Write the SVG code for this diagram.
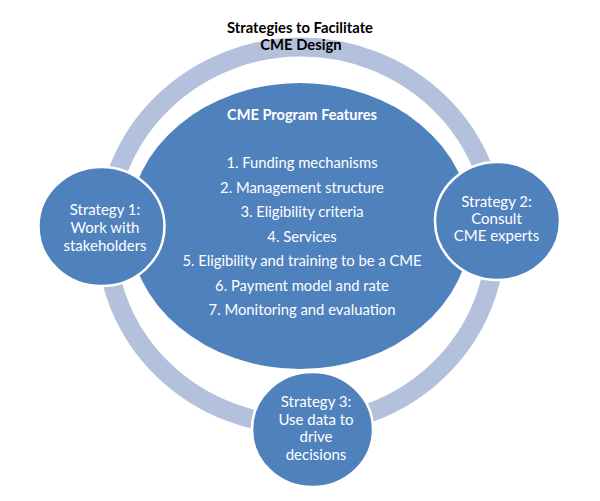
<svg xmlns="http://www.w3.org/2000/svg" width="600" height="501" viewBox="0 0 600 501">
<style>
.ring{fill:none;stroke:#b3c1dc;stroke-width:19}
.core{fill:#4f81bd}
.strat{fill:#4f81bd;stroke:#ffffff;stroke-width:2.5}
.t{font-family:Lato,"Liberation Sans",Arial,sans-serif;text-anchor:middle;fill:#ffffff}
.list{font-size:14.8px}
.st{font-size:15px}
.bold{font-weight:bold;font-size:14.6px}
.title{font-family:Lato,"Liberation Sans",Arial,sans-serif;text-anchor:middle;fill:#000000;font-weight:bold;font-size:14.8px}
</style>
<rect width="600" height="501" fill="#ffffff"/>
<g id="connectors">
<ellipse class="ring" cx="301" cy="236" rx="195" ry="189"/>
</g>
<g id="title">
<text class="title" x="300" y="33">Strategies to Facilitate</text>
<text class="title" x="301" y="49.5">CME Design</text>
</g>
<g id="features">
<ellipse class="core" cx="300" cy="226" rx="171" ry="143"/>
<text class="t bold" x="302" y="120">CME Program Features</text>
<text class="t list" x="302" y="168">1. Funding mechanisms</text>
<text class="t list" x="302" y="192.5">2. Management structure</text>
<text class="t list" x="302" y="217">3. Eligibility criteria</text>
<text class="t list" x="302" y="241.5">4. Services</text>
<text class="t list" x="302" y="266">5. Eligibility and training to be a CME</text>
<text class="t list" x="302" y="290.5">6. Payment model and rate</text>
<text class="t list" x="302" y="315">7. Monitoring and evaluation</text>
</g>
<g id="strategy1">
<ellipse class="strat" cx="101.5" cy="226.5" rx="63" ry="59.5"/>
<text class="t st" x="105" y="215">Strategy 1:</text>
<text class="t st" x="105" y="233">Work with</text>
<text class="t st" x="105" y="250.7">stakeholders</text>
</g>
<g id="strategy2">
<ellipse class="strat" cx="497.5" cy="221" rx="62.5" ry="59"/>
<text class="t st" x="496.5" y="206.7">Strategy 2:</text>
<text class="t st" x="496.5" y="223.5">Consult</text>
<text class="t st" x="496.5" y="240.7">CME experts</text>
</g>
<g id="strategy3">
<ellipse class="strat" cx="312.5" cy="429.5" rx="60.5" ry="57.5"/>
<text class="t st" x="316" y="406.7">Strategy 3:</text>
<text class="t st" x="316" y="424.5">Use data to</text>
<text class="t st" x="316" y="442">drive</text>
<text class="t st" x="316" y="460">decisions</text>
</g>
</svg>
